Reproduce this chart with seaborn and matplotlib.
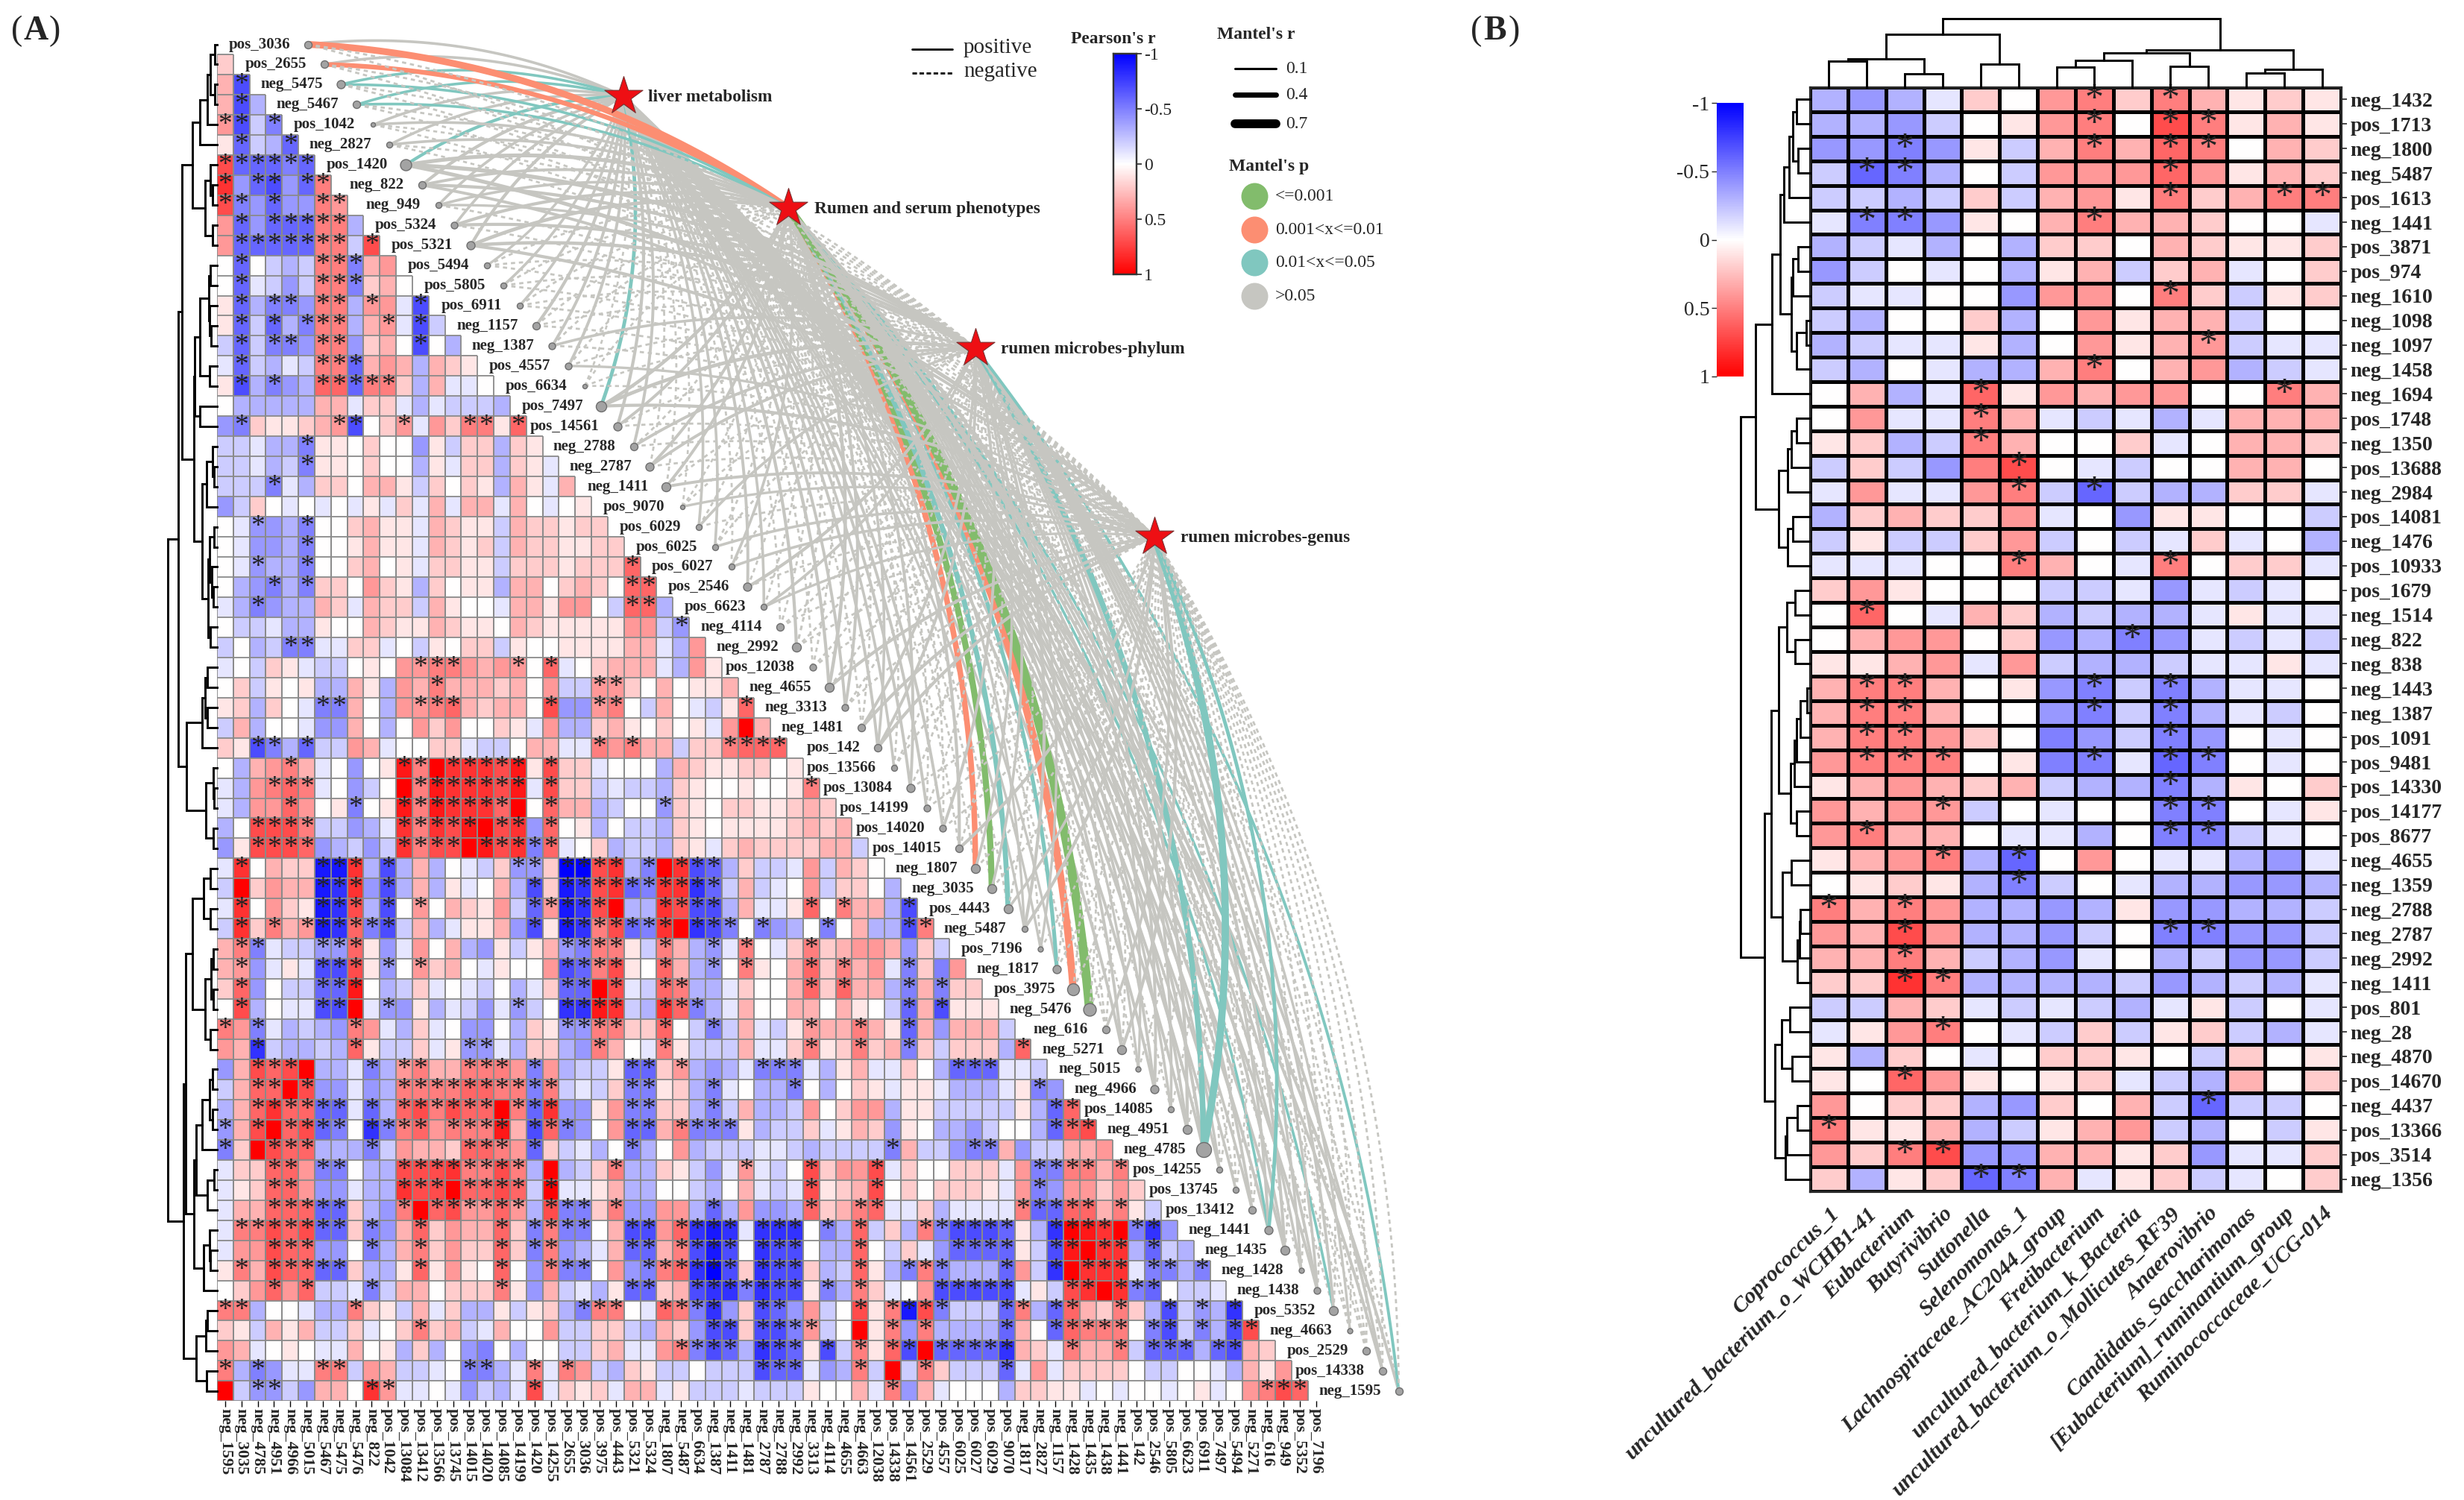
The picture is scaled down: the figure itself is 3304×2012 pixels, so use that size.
import matplotlib
matplotlib.use('Agg')
import numpy as np
import pandas as pd
import matplotlib.pyplot as plt
import seaborn as sns
from matplotlib.colors import LinearSegmentedColormap

# ── Panel A data: r x 10, * = significant ─────────────────
metabolites = ['pos_3036', 'pos_2655', 'neg_5475', 'neg_5467', 'pos_1042', 'neg_2827', 'pos_1420', 'neg_822',
               'neg_949', 'pos_5324', 'pos_5321', 'pos_5494', 'pos_5805', 'pos_6911', 'neg_1157', 'neg_1387',
               'pos_4557', 'pos_6634', 'pos_7497', 'pos_14561', 'neg_2788', 'neg_2787', 'neg_1411', 'pos_9070',
               'pos_6029', 'pos_6025', 'pos_6027', 'pos_2546', 'pos_6623', 'neg_4114', 'neg_2992', 'pos_12038',
               'neg_4655', 'neg_3313', 'neg_1481', 'pos_142', 'pos_13566', 'pos_13084', 'pos_14199', 'pos_14020',
               'pos_14015', 'neg_1807', 'neg_3035', 'pos_4443', 'neg_5487', 'pos_7196', 'neg_1817', 'pos_3975',
               'neg_5476', 'neg_616', 'neg_5271', 'neg_5015', 'neg_4966', 'pos_14085', 'neg_4951', 'neg_4785',
               'pos_14255', 'pos_13745', 'pos_13412', 'neg_1441', 'neg_1435', 'neg_1428', 'neg_1438', 'pos_5352',
               'neg_4663', 'pos_2529', 'pos_14338', 'neg_1595']

bottom_labels = ['neg_1595', 'neg_3035', 'neg_4785', 'neg_4951', 'neg_4966', 'neg_5015', 'neg_5467', 'neg_5475',
                 'neg_5476', 'neg_822', 'pos_1042', 'pos_13084', 'pos_13412', 'pos_13566', 'pos_13745', 'pos_14015',
                 'pos_14020', 'pos_14085', 'pos_14199', 'pos_1420', 'pos_14255', 'pos_2655', 'pos_3036', 'pos_3975',
                 'pos_4443', 'pos_5321', 'pos_5324', 'neg_1807', 'neg_5487', 'pos_6634', 'neg_1387', 'neg_1411',
                 'neg_1481', 'neg_2787', 'neg_2788', 'neg_2992', 'neg_3313', 'neg_4114', 'neg_4655', 'neg_4663',
                 'pos_12038', 'pos_14338', 'pos_14561', 'pos_2529', 'pos_4557', 'pos_6025', 'pos_6027', 'pos_6029',
                 'pos_9070', 'neg_1817', 'neg_2827', 'neg_1157', 'neg_1428', 'neg_1435', 'neg_1438', 'neg_1441',
                 'pos_142', 'pos_2546', 'pos_5805', 'pos_6623', 'pos_6911', 'pos_7497', 'pos_5494', 'neg_5271',
                 'neg_616', 'neg_949', 'pos_5352', 'pos_7196']

corr_rows = [
    "",
    "2",
    "3 -7*",
    "3 -7* -3",
    "4* -7* -2 -5*",
    "1 -6* -2 -3 -6*",
    "7* -6* -6* -6* -5* -6*",
    "8* -4 -6* -7* -4 -6* 5*",
    "7* -5* -4 -6* -4 -4 5* 4*",
    "4 -6* -4 -6* -6* -6* 5* 5* -3",
    "4 -6* -6* -6* -6* -6* 5* 5* -2 7*",
    "0 -6* 0 -2 -3 -2 5* 5* -5* 3 4",
    "0 -6* -1 -2 -4 -2 5* 5* -5* 2 3 0",
    "1 -6* -3 -5* -5* -4 5* 5* -3 4* 4 -1 -7*",
    "1 -6* -2 -6* -3 -5* 5* 5* -3 3 4* -1 -7* -2",
    "-2 -6* -2 -5* -5* -4 5* 5* -4 2 3 0 -7* 0 -3",
    "-1 -6* -2 -3 -1 -2 5* 5* -6* 3 4 3 -3 3 2 1",
    "1 -7* -3 -5* -4 -3 6* 6* -6* 5* 5* 2 -3 3 -1 -1 0",
    "0 -3 -3 -3 -3 -3 3 3 -1 2 2 -1 -3 -1 -2 -2 -2 -3",
    "-4 -5* 2 1 1 2 3 4* -7* 0 2 4* -1 4 2 5* 5* 1 6*",
    "-2 -2 -1 -3 -3 -5* 1 1 0 2 0 0 -4 1 -2 2 2 -3 2 1",
    "-2 -2 -1 -3 -2 -5* 1 1 0 2 0 0 -3 1 -1 2 2 -3 2 1 -1",
    "-2 -2 -2 -5* -1 -3 2 2 0 3 3 1 -2 2 0 2 1 -3 3 1 -1 3",
    "-4 -2 2 0 -1 0 -1 0 -1 1 -1 2 -1 3 -1 3 3 -1 3 0 -1 0 1",
    "0 -1 -4* -4 -3 -5* 0 0 2 3 1 1 -1 3 2 1 1 -2 3 2 2 1 2 2",
    "0 -1 -4 -4 -3 -5* 0 0 1 3 1 1 -1 3 2 1 2 -2 3 2 2 1 1 2 2",
    "0 -1 -4* -3 -3 -5* 0 0 2 3 0 1 -1 2 2 1 1 -2 2 2 2 1 2 2 2 6*",
    "0 -3 -4 -5* -3 -5* 2 2 0 4 2 1 -3 2 0 1 1 -3 3 3 0 2 3 2 0 6* 6*",
    "-1 -3 -5* -4 -3 -3 3 2 -1 3 2 2 -2 3 1 0 0 -1 3 3 1 4 4 0 -2 6* 6* -3",
    "0 -2 -2 -1 -3 -3 1 0 0 3 2 1 1 3 2 1 1 0 3 2 1 1 1 1 1 4 4 -2 -4*",
    "-2 0 -3 -2 -5* -5* -1 -1 2 2 -1 0 -2 1 0 2 2 -2 1 0 0 1 1 1 1 3 3 -1 -3 4",
    "-1 0 -2 2 1 -1 -2 -2 0 1 0 4 4* 5* 5* 4 3 4 4* 0 6* -1 0 2 3 3 3 -1 -3 4 1",
    "0 2 -2 1 0 1 -3 -3 3 1 -3 4 3 5* 3 3 3 2 3 0 4 -2 -2 4* 4* 2 0 3 0 1 1 3",
    "1 2 -3 2 0 -1 -5* -5* 3 0 -3 4 4* 5* 6* 3 2 3 3 0 7* -4 -4 4* 5* 0 -2 3 0 -1 -2 1 6*",
    "-2 3 -3 0 0 -1 -4 -4 3 0 -3 0 4 2 4 0 0 2 1 -1 4 -3 -3 2 3 1 0 2 0 1 -1 4 10 3",
    "2 1 -7* -5* -3 -6* -2 -2 4 3 -1 0 0 2 2 -1 -2 -2 0 3 3 -1 -1 5* 4 5* 3 3 -2 2 2 5* 6* 6* 6*",
    "0 -3 3 4 5* 3 -1 0 -4 0 1 9* 5* 10 8* 8* 8* 7* 9* 1 7* 2 2 -1 0 0 0 -3 3 2 1 1 2 2 0 1",
    "-1 -3 4 5* 6* 5* -1 0 -4 -2 0 10 5* 9* 8* 8* 8* 7* 9* -1 7* 2 2 -2 -1 -2 -2 -3 2 1 0 0 1 0 0 1 5*",
    "-1 -3 4 4 6* 4 0 1 -5* 0 1 9* 5* 9* 8* 8* 8* 6* 10 0 6* 3 3 -3 -2 0 0 -4* 2 1 0 2 2 1 1 2 3 2",
    "-3 0 7* 7* 7* 5* -2 -2 -4 -3 -1 8* 5* 8* 7* 9* 10 7* 8* -4 6* 0 1 -3 0 -2 -2 -3 2 1 0 1 1 1 1 2 3 2 3",
    "-4 1 7* 7* 7* 6* -4 -3 -2 -4 -2 8* 5* 7* 7* 10 9* 7* 8* -5* 6* -1 0 2 -3 -2 -2 -3 2 1 -1 2 3 2 2 2 2 3 3 -2",
    "-1 8* 0 3 2 2 -9* -9* 8* -3 -7* -3 3 -3 0 -1 -2 2 -4* -4* 2 -10* -10* 7* 8* -3 -5* 10 8* -7* -6* -3 2 -2 -2 -1 4 -2 3 2 0",
    "-2 10 2 4 3 3 -9* -8* 8* -4 -7* -3 3 -3 1 -1 0 3 -3 -7* 2 -9* -8* 7* 8* -6* -5* 8* 8* -8* -6* -2 3 -2 -1 0 4 -2 2 2 0 -3",
    "-1 8* 0 4 2 1 -9* -8* 7* -3 -7* 0 4* 0 3 2 1 4 -2 -6* 4* -9* -8* 7* 10 -3 -3 8* 7* -7* -7* -3 3 -1 -1 1 6* 0 5* 3 3 -3 -7*",
    "-2 8* 2 5* 3 4* -9* -8* 6* -5* -7* -2 3 -3 -1 1 1 3 -4 -7* 1 -9* -8* 5* 7* -6* -5* 8* 10 -8* -7* -5* 0 -5* -4 -3 0 -5* 0 3 -3 -3 -7* 5*",
    "3 5* -5* -1 -2 -2 -4* -4* 6* 1 -4 -1 4 0 3 -3 -4 1 -2 1 3 -4* -5* 5* 5* 1 -2 5* 3 -3 -4* -1 5* 0 -1 2 5* 2 3 4 4 3 -4 2 -2",
    "3 4* -4 -1 1 -1 -7* -7* 7* 1 -4* 0 4* 2 3 0 -1 1 0 0 4 -7* -6* 5* 7* 1 0 6* 3 -3 -4* 0 5* 1 0 3 6* 2 5* 3 4 -1 -5* 2 -5 4",
    "2 6* -4 0 -2 -2 -6* -6* 9* 0 -3 -2 2 -1 0 -1 -2 0 -3 -1 2 -6* -6* 10 7* -1 -2 6* 5* -3 -3 -1 2 0 0 3 6* 2 6* 3 3 -3 -5* 3 -5* 2 2",
    "0 7* -3 0 -1 -1 -7* -7* 10 -1 -4* -4 1 -3 -1 -2 -4 -1 -4* -2 0 -8* -8* 9* 8* -2 -3 8* 6* -5* -3 -1 3 0 0 3 3 0 3 1 0 -2 -6* 3 -7* 1 1 1",
    "5* 4 -5* -1 -3 -2 -3 -4 5* 4 -1 -3 2 -1 0 -4 -4 0 -3 2 1 -4* -4* 5* 5* 2 2 6* 0 -2 -5* -2 3 -1 -2 1 4* 3 3 5* 3 1 -6* 3 -4 3 3 3 -2",
    "4 3 -8* -2 -3 -3 -2 -3 6* 1 -2 -2 2 -1 1 -4* -4* -1 -3 2 2 -3 -4 5* 3 0 -1 5* 1 -2 -2 -2 3 -1 -1 2 5* 1 2 5* 2 3 -5* 2 -2 2 2 2 -3 6*",
    "-4 3 7* 6* 7* 10 -3 -3 -1 -5* -3 4* 5* 3 3 5* 5* 5* 4 -5* 4 -3 -2 -2 1 -6* -6* 2 4* -3 -4 -3 -1 -5* -5* -5* -1 -3 1 3 -1 -1 2 0 -3 -6* -6* -6* -1 -1 -2",
    "-2 3 6* 6* 10 7* -4 -4 -1 -4 -3 5* 5* 5* 5* 6* 6* 5* 5* -5* 5* -2 -1 -2 2 -5* -5* 1 2 -3 -5* -1 0 -3 -3 -5* 0 -3 0 2 1 -1 1 1 -1 -3 -3 -3 -1 1 -5* -4",
    "-3 3 6* 8* 6* 6* -6* -6* -1 -6* -3 6* 7* 5* 7* 6* 6* 10 5* -6* 8* -4 -4 1 4 -5* -5* 2 2 -3 -5* -2 3 -3 -3 -2 4 0 2 4 4 -3 1 1 -2 -2 -2 -2 -2 1 -3 -6* 6*",
    "-4* 3 7* 10 6* 7* -6* -5* 0 -8* -5* 5* 6* 4 5* 5* 5* 9* 3 -7* 6* -5* -4 0 4 -6* -6* 3 5* -5* -5* -5* 1 -3 -2 -2 2 -1 1 3 2 -4 1 0 -3 -3 -4 -2 0 0 -3 -6* 6* 7*",
    "-5* 2 10 7* 6* 6* -3 -3 -3 -5* -2 4 3 3 2 6* 6* 5* 4 -6* 2 -2 -1 -3 0 -5* -3 0 4 -3 -2 -2 -2 -1 -1 -2 -3 -2 -2 -2 -2 -5* 3 -2 -2 -4 -5* -5* 3 -4 -2 -2 3 3 4",
    "-1 2 2 6* 6* 4 -5* -5* 0 -3 -3 7* 7* 7* 8* 5* 5* 7* 5* -3 10 -3 -2 2 5* -3 -3 2 1 -2 -4 -1 4* -1 -2 0 7* 2 4 4 7* -1 2 0 0 2 2 2 -1 4 -5* -5* 5* 5* 3 5*",
    "-1 1 2 6* 6* 4 -4 -4 -1 -3 -3 8* 7* 7* 10 6* 6* 7* 6* -2 10* -1 -1 1 3 -3 -3 0 0 -2 -3 0 3 -1 -2 -1 7* 1 2 3 7* 0 2 0 2 2 2 1 -1 4 -5* -4 4 4 2 4 2",
    "-1 3 3 6* 6* 6* -6* -6* 2 -3 -4 5* 10 6* 7* 4* 4* 6* 4* -3 7* -5* -5* 2 5* -4 -4 4 4 -3 -6* -3 4 -4 -4 -3 6* 2 3 5* 6* -1 -1 2 -3 -1 -1 -1 -1 5* -6* -6* 6* 6* 3 5* 1 -2",
    "-1 5* 5* 7* 6* 7* -6* -6* 2 -5* -4 3 6* 2 4 3 3 6* 2 -5* 5* -5* -5* 0 3 -7* -7* 4 6* -8* -9* -8* -1 -8* -8* -8* 0 -5* -3 6* -2 2 -3 5* -5* -7* -7* -7* -6* 1 -3 -8* 10* 9* 8* 10 -5* -8* -4",
    "-1 4 4 7* 6* 6* -4 -4 0 -5* -3 3 5* 2 4 2 2 6* 2 -5* 5* -4 -3 -1 3 -6* -6* 3 5* -7* -9* -7* 0 -8* -7* -7* 0 -3 -3 6* 0 -2 2 -1 -4 -6* -6* -6* -6* 1 -2 -7* 9* 10 8* 8* -3 -6* -2 -3",
    "1 5* 3 7* 6* 6* -6* -6* 2 -3 -3 1 6* 1 4 1 0 6* 0 -4 5* -5* -5* 0 4 -4 -5* 5* 6* -8* -10* -7* 2 -8* -7* -7* 2 -3 -2 6* 1 -3 -5* 5* -5* -3 -3 -3 -6* 4 -2 -8* 10 8* 8* 8* -1 -5* -5* -3 -5*",
    "0 2 4 6* 4 6* -2 -2 -1 -5* -2 3 3 0 2 2 2 5* 1 -4 3 -2 -1 -3 1 -6* -6* 2 3 -7* -8* -8* -5* -8* -7* -7* 1 -5* -3 5* 2 -1 0 4 -7* -7* -7* -7* -7* -1 1 -2 7* 8* 10 8* -5* -6* 0 -2 -2 -1",
    "5* 5* -3 0 0 -1 -3 -3 5* 2 1 -2 3 -1 2 -3 -3 1 -2 1 2 -3 -5* 5* 5* 0 -1 6* 5* -5* -8* -4 2 -7* -6* -4 4 -2 0 7* 1 5* -9* 7* -5* -2 -2 -2 -6* 5* -3 -6* 6* 3 2 5* 2 -3 -7* -2 -4* -3 -8*",
    "2 1 -2 3 1 3 -2 -2 2 -1 0 2 5* 2 3 -2 -1 3 0 0 4 -2 -2 2 2 -2 -3 3 2 -4 -7* -7* 2 -7* -7* -5* 4* -2 0 10 1 5* -4 5* -3 -3 -3 -3 -6* 3 0 -6* 6* 5* 5* 5* 0 -5* -7* -2 -5* -3 -7* 7*",
    "4 3 -1 0 1 0 -1 -1 3 0 1 -3 2 -3 0 -4 -5 0 -3 0 0 -2 -2 2 3 -1 -1 4 5* -5* -7* -6* -3 -8* -7* -6* 1 -7* -2 5* 1 6* -7* 10 -6* -6* -6* -6* -8* 3 2 -1 5* 3 3 5* -2 -6* -6* -6* -3 -6* -7* 3 2",
    "5* -3 -5* -4 -1 -1 5* 5* -2 4 3 -2 -2 -1 0 -5* -5* -3 -1 5* -1 5* 4 -2 -3 2 1 -2 -2 0 -2 -2 -2 -7* -6* -6* -1 -4 -3 5* -2 10 -2 5* 2 -2 -2 -2 -6* -1 4 -1 2 2 2 2 0 -2 -2 0 0 -1 -3 3 1 4",
    "10 -2 -4* -4* -2 -4 3 3 0 8* 4* -1 -1 0 -1 -4 -2 -3 -1 7* -1 2 1 2 -1 3 3 -1 1 -2 -2 -2 -1 -2 -2 -2 1 0 0 3 -1 5* -4 3 -1 0 0 0 -3 2 2 1 1 -1 0 -1 0 0 -1 0 1 -1 0 4 5* 7* 6*",
]

# row dendrogram as (height, left, right), leaves are row numbers
row_tree_a = (130,
              (102,
               (93,
                (65,
                 (45, (25, (18, (6, 0, 1), (6, 2, 3)), 4), 5),
                 (32, (18, 6, (12, 7, 8)), (12, 9, 10))),
                (60,
                 (58,
                  (45, (22, (18, 11, 12), (20, 13, (16, 14, 15))), (20, 16, 17)),
                  (45, 18, 19)),
                 (40,
                  (27, (12, 20, (8, 21, 22)), 23),
                  (23, (20, (8, 24, 25), (14, 26, (10, 27, 28))), (18, 29, 30))))),
               (80,
                (40, (32, (25, 31, 32), (25, 33, 34)), 35),
                (30, (10, 36, (8, 37, 38)), (10, 39, 40)))),
              (88,
               (83,
                (65,
                 (35, (18, 41, 42), (18, 43, 44)),
                 (32, (15, (10, 45, 46), (10, 47, 48)), (18, 49, 50))),
                (60,
                 (55,
                  (40, (20, (12, 51, 52), (12, 53, 54)), 55),
                  (25, (8, 56, 57), 58)),
                 (35, (20, 59, (18, 60, 61)), 62))),
               (55,
                (30, (25, 63, 64), 65),
                (28, 66, 67))))

# ── Mantel links: r per metabolite, negative = dashed ─────
hubs = ['liver metabolism', 'Rumen and serum phenotypes', 'rumen microbes-phylum', 'rumen microbes-genus']

liver_r = [10, 10, 14, 14, 10, 10, 18, 14, 10, 10, 14, 8, 10, 10, 14, 12, 12, -5, 22, 14,
           12, -6, -6, -5, 10, 10, -6, 12, 10, -6, 14, -6, 14, 12, -6, 12, 10, 12, 12, 12,
           -6, -6, -6, -6, 8, 8, 8, -6, -6, -6, 12, -5, 12, -5, 12, 12, 10, 10, 10, 12,
           12, -5, 12, -6, -5, -6, 12, 12]
rumen_r = [50, 32, 14, 14, 10, 10, 20, 12, 10, 14, 18, -6, -6, -6, -6, -6, -6, -5, 16, 12,
           -6, 12, 12, -5, -6, -6, 10, -6, -6, -6, -8, -6, 16, 12, -6, 10, -6, 12, -6, -6,
           14, 40, 45, 35, 8, -5, 25, 55, 70, -6, 12, 8, 12, 10, 12, 14, 10, -6, 12, 14,
           12, 10, 12, 14, -5, -6, 12, -6]
phylum_r = [-6, -6, -6, -6, -5, -6, 22, 14, 8, 14, 16, -6, -6, -6, -6, 10, -6, -5, 18, -6,
            12, 12, -6, -5, 10, -6, -6, 14, 10, -6, -6, -6, -6, -6, 12, 12, -6, -6, -6, 12,
            -6, 10, 10, -6, 14, 8, -6, -6, -6, -6, -6, 8, 12, 10, 14, 40, -6, -6, -6, 12,
            14, 10, 10, 12, 8, -6, -6, 16]
genus_r = [-6, -6, -6, -6, -5, -5, 20, 12, -6, -6, 14, -6, -6, -6, -6, -6, 8, -5, 14, -6,
           -6, -6, 12, 8, -6, 10, 10, -6, 8, -6, -6, -6, 14, -6, 14, 14, -6, -6, -6, -6,
           14, -6, -6, 10, 14, -5, -6, -6, -6, 10, 14, -5, -6, -5, -6, 55, -6, -6, -6, 22,
           -6, -5, -6, -6, -5, -6, -6, -6]

teal_links = {0: ['neg_5475', 'neg_5467', 'pos_1420', 'pos_7497'],
              1: ['neg_5475', 'neg_5467', 'pos_4443', 'neg_1817', 'neg_1441', 'pos_5352'],
              2: ['neg_4785', 'neg_1595'],
              3: ['neg_4785', 'neg_1441']}
orange_links = {1: ['pos_3036', 'pos_2655', 'neg_1807', 'pos_3975']}
green_links = {1: ['neg_3035', 'neg_5476']}

# node radius in px
node_size = [5, 5, 5.5, 5, 3, 4, 7.5, 5, 4, 4.5, 5.5, 4, 4, 4, 5, 4.5, 4.5, 3, 7, 5.5,
             5, 5.5, 6, 3, 4, 4, 4, 5.5, 4, 5, 6, 4.5, 6, 4.5, 5, 5, 4, 5.5, 4.5, 4.5,
             5, 6, 6, 6, 4, 3.5, 5.5, 8, 8.5, 5, 6, 3.5, 5.5, 4, 6, 10, 4, 4, 5, 5.5,
             6, 3.5, 4.5, 6, 3.5, 5, 5, 5]

# ── Panel B data ──────────────────────────────────────────
genus_names = ['Coprococcus_1', 'uncultured_bacterium_o_WCHB1-41', 'Eubacterium', 'Butyrivibrio', 'Suttonella',
               'Selenomonas_1', 'Lachnospiraceae_AC2044_group', 'Fretibacterium', 'uncultured_bacterium_k_Bacteria',
               'uncultured_bacterium_o_Mollicutes_RF39', 'Anaerovibrio', 'Candidatus_Saccharimonas',
               '[Eubacterium]_ruminantium_group', 'Ruminococcaceae_UCG-014']

metab_b = ['neg_1432', 'pos_1713', 'neg_1800', 'neg_5487', 'pos_1613', 'neg_1441', 'pos_3871', 'pos_974', 'neg_1610',
           'neg_1098', 'neg_1097', 'neg_1458', 'neg_1694', 'pos_1748', 'neg_1350', 'pos_13688', 'neg_2984',
           'pos_14081', 'neg_1476', 'pos_10933', 'pos_1679', 'neg_1514', 'neg_822', 'neg_838', 'neg_1443', 'neg_1387',
           'pos_1091', 'pos_9481', 'pos_14330', 'pos_14177', 'pos_8677', 'neg_4655', 'neg_1359', 'neg_2788',
           'neg_2787', 'neg_2992', 'neg_1411', 'pos_801', 'neg_28', 'neg_4870', 'pos_14670', 'neg_4437', 'pos_13366',
           'pos_3514', 'neg_1356']

corr_b = [
    "-3 -4 -3 -1 2 0 4 5* 2 5* 3 1 2 1",
    "-3 -3 -4 -2 0 1 4 5* 0 7* 5* 1 3 1",
    "-4 -4 -5* -4 1 -2 3 5* 3 6* 5* 0 3 2",
    "-2 -6* -5* -3 0 -2 4 4 4 6* 4 1 3 2",
    "-2 -2 -3 -2 2 -2 3 4 1 5* 2 3 5* 5*",
    "-1 -5* -5* -4 1 0 3 5* 3 3 2 0 0 -1",
    "-3 -2 -1 -3 0 -3 2 2 0 3 2 1 1 2",
    "-4 -2 0 -1 0 -3 1 3 -2 2 3 -1 0 2",
    "-2 -1 -1 0 0 -4 4 4 0 5* 2 -2 1 2",
    "-2 -3 0 0 2 -3 0 4 1 3 3 -2 0 0",
    "-3 -2 -1 -1 1 -3 0 4 1 3 4* -2 -1 -1",
    "-2 -3 0 -1 -3 -3 3 5* 0 3 4 -3 -2 -1",
    "0 3 -3 -1 6* 1 4 3 4 4 0 0 5* 3",
    "0 4 -1 -1 5* 3 -1 -2 -1 -3 -1 3 3 3",
    "1 2 -3 -2 5* 3 0 0 2 -1 0 3 3 2",
    "-2 2 -2 -4 5 7* 0 -1 -2 0 0 3 3 0",
    "-1 4 -1 -1 4 5* -2 -6* -2 -3 -3 2 2 -1",
    "-3 2 3 2 2 4 -1 0 -4 1 1 0 0 -2",
    "-2 1 -2 -2 2 4 -2 0 -2 -1 2 -1 0 -3",
    "-1 -1 -1 0 0 5* 3 0 -1 5* 0 2 2 -1",
    "2 4 1 0 0 0 -2 -2 -1 -4 -1 -2 -1 0",
    "0 6* 0 -1 3 2 -3 -2 -3 -3 -1 1 -1 -1",
    "0 3 4 4 0 2 -4 -3 -5* -4 -1 -2 -1 -2",
    "1 1 3 4 -1 4 -2 -3 -3 -2 -1 -1 1 -1",
    "3 5* 5* 3 0 1 -4 -5* -2 -5* -3 -1 -1 0",
    "3 5* 5* 3 0 0 -4 -5* -2 -5* -3 -1 -2 0",
    "3 5* 5* 4 2 0 -5 -4 -2 -5* -4 0 -1 0",
    "4 5* 5* 5* 0 1 -5 -5* -1 -6* -5* 0 -1 0",
    "1 3 4 3 2 3 -2 -3 -3 -5* -3 1 0 2",
    "4 3 4 4* -2 0 -1 0 0 -5* -5* 0 -1 1",
    "4 5* 3 3 0 -1 -1 -3 0 -5* -5* -2 -1 0",
    "1 3 4 5* -3 -6* 0 4 0 -1 -1 -3 -4 -1",
    "0 1 2 1 -3 -5* -2 0 -1 -3 -3 -4 -4 -3",
    "5* 3 5* 4 -3 -3 -4 -3 1 -4 -4 -3 -3 -2",
    "4 3 7* 4 -3 -3 -4 -2 0 -5* -5* -4 -4 -2",
    "3 3 5* 3 -2 -3 -4 -1 0 -3 -2 -4 -4 -2",
    "2 2 8* 5* -3 -3 -3 -3 -2 -4 -3 -2 -3 -1",
    "-2 -2 3 2 -1 -2 -1 -2 -3 -1 1 -2 0 -1",
    "-1 1 4 5* 0 -1 -2 2 -2 1 2 -2 -3 -1",
    "1 -3 2 0 -1 0 2 2 1 0 -2 2 0 1",
    "1 0 6* 4 1 0 1 2 -1 -2 -3 3 0 2",
    "4 0 2 2 -3 -4 2 0 3 -2 -6* -2 -2 0",
    "5* 1 1 3 -3 -2 1 3 4 -2 -3 0 -2 1",
    "4 2 5* 7* -4 -4 3 3 1 2 -4 -1 -1 2",
    "2 -3 1 2 -6* -5* 3 -1 1 2 -2 -1 0 2",
]

row_tree_b = (132,
              (104,
               (72,
                (57,
                 (50, (40, (32, (26, 0, 1), (22, 2, 3)), 4), 5),
                 (35, (32, (22, 6, 7), 8), (25, (7, 9, 10), 11))),
                12),
               (60,
                (42, (35, (25, 13, 14), 15), 16),
                (42, (32, 17, 18), 19))),
              (87,
               (74,
                (60,
                 (44, (28, 20, 21), (28, 22, 23)),
                 (37, (30, (25, (18, (5, 24, 25), 26), 27), 28), (25, 29, 30))),
                (52, (35, 31, 32), (24, (20, (18, 33, 34), 35), 36))),
               (67,
                (54, (38, 37, 38), (34, 39, 40)),
                (47, (44, (24, 41, 42), 43), 44))))

col_tree_b = (180,
              (140, (75, (68, 0, 1), (35, 2, 3)), (60, 4, 5)),
              (98,
               (90, (70, (52, 6, 7), 8), (55, 9, 10)),
               (47, (37, 11, 12), 13)))

cbar_ticks = [-1, -0.5, 0, 0.5, 1]
cbar_ticklabels = ['-1', '-0.5', '0', '0.5', '1']

# ── helpers ───────────────────────────────────────────────
W, H = 3305, 2012
GREY, TEAL, ORANGE, GREEN = '#C6C6C1', '#80C7BF', '#FC8E72', '#82BC6C'
cmap = LinearSegmentedColormap.from_list('bwr2', ['#0000FF', '#FFFFFF', '#FF0000'])


def parse_rows(rows, n_cols):
    vals = np.full((len(rows), n_cols), np.nan)
    stars = np.full((len(rows), n_cols), '', dtype=object)
    for i, row in enumerate(rows):
        for j, tok in enumerate(row.split()):
            vals[i, j] = int(tok.strip('*')) / 10
            stars[i, j] = '*' if '*' in tok else ''
    return vals, stars


def px_axes(fig, left, top, right, bottom):
    return fig.add_axes([left / W, 1 - bottom / H, (right - left) / W, (bottom - top) / H])


def draw_tree(ax, node, to_xy):
    # returns (leaf position, height) of the node
    if not isinstance(node, tuple):
        return node, 0
    h, a, b = node
    pa, ha = draw_tree(ax, a, to_xy)
    pb, hb = draw_tree(ax, b, to_xy)
    pts = [to_xy(pa, ha), to_xy(pa, h), to_xy(pb, h), to_xy(pb, hb)]
    ax.plot([p[0] for p in pts], [p[1] for p in pts], color='black', lw=2.1,
            solid_joinstyle='miter', solid_capstyle='projecting', zorder=3)
    return (pa + pb) / 2, h


def bezier(p0, p1, curv=0.14, n=60):
    p0, p1 = np.array(p0, float), np.array(p1, float)
    d = p1 - p0
    perp = np.array([-d[1], d[0]])
    if perp[0] - perp[1] < 0:
        perp = -perp
    ctrl = (p0 + p1) / 2 + curv * perp
    t = np.linspace(0, 1, n)[:, None]
    return (1 - t) ** 2 * p0 + 2 * t * (1 - t) * ctrl + t ** 2 * p1


def r_to_lw(r):
    return (1.5 + abs(r) / 100 * 15) * 0.72


def label_with_bold_letter(ax, x, letter, y=42, size=33):
    # parentheses are regular, only the letter is bold
    ax.text(x, y, '(', fontsize=size, va='center')
    ax.text(x + 17, y, letter, fontsize=size, fontweight='bold', va='center')
    ax.text(x + 51, y, ')', fontsize=size, va='center')


sns.set_style('white')
plt.rcParams['font.family'] = ['Liberation Serif', 'DejaVu Serif']

fig = plt.figure(figsize=(W / 100, H / 100), dpi=100)

# ── Panel A heatmap ───────────────────────────────────────
cw, rh = 21.83, 26.96
left_a, top_a = 291, 73 - rh
n_a = len(metabolites)
for i, row in enumerate(corr_rows):
    if len(row.split()) != i:
        raise ValueError(f'row {i} has {len(row.split())} cells')

vals_a, stars_a = parse_rows(corr_rows, n_a)
df_a = pd.DataFrame(vals_a, index=metabolites, columns=bottom_labels)
ax_a = px_axes(fig, left_a, top_a, left_a + cw * n_a, top_a + rh * n_a)
cax_a = px_axes(fig, 1493, 72, 1524, 368)
sns.heatmap(df_a, ax=ax_a, cmap=cmap, vmin=-1, vmax=1, mask=np.isnan(vals_a), annot=stars_a, fmt='',
            annot_kws={'fontsize': 27, 'color': '#222222'}, linewidths=0,
            xticklabels=True, yticklabels=False, cbar_ax=cax_a, cbar_kws={'ticks': cbar_ticks})

# grid only around the cells of the lower triangle
rows_idx = np.arange(1, n_a)
ax_a.hlines(rows_idx, 0, rows_idx, color='#8A8A8A', lw=1.3, zorder=2)
ax_a.hlines(n_a, 0, n_a - 1, color='#8A8A8A', lw=1.3, zorder=2)
ax_a.vlines(rows_idx - 1, rows_idx, n_a, color='#8A8A8A', lw=1.3, zorder=2)
ax_a.vlines(rows_idx, rows_idx, n_a, color='#8A8A8A', lw=1.3, zorder=2)

ax_a.tick_params(axis='x', bottom=True, length=6, width=1, color='black', pad=1)
for t in ax_a.get_xticklabels():
    t.set_rotation(-90)
    t.set_fontsize(16)
    t.set_fontweight('bold')
    t.set_va('top')
    t.set_ha('center')

cax_a.invert_yaxis()
cax_a.set_yticks(cbar_ticks, cbar_ticklabels, fontsize=17)
cax_a.tick_params(axis='y', right=True, left=False, length=5, width=1.2, pad=2)
cax_a.yaxis.tick_right()
for s in cax_a.spines.values():
    s.set_visible(True)
    s.set_linewidth(1.6)
    s.set_color('#333333')

# ── Panel B heatmap ───────────────────────────────────────
left_b, right_b, top_b, bottom_b = 2427, 3139, 117, 1598
vals_b, stars_b = parse_rows(corr_b, len(genus_names))
df_b = pd.DataFrame(vals_b, index=metab_b, columns=genus_names)
ax_b = px_axes(fig, left_b, top_b, right_b, bottom_b)
cax_b = px_axes(fig, 2302, 138, 2338, 505)
sns.heatmap(df_b, ax=ax_b, cmap=cmap, vmin=-1, vmax=1, annot=stars_b, fmt='',
            annot_kws={'fontsize': 36, 'color': '#222222'}, linewidths=2.3, linecolor='black',
            xticklabels=True, yticklabels=True, cbar_ax=cax_b, cbar_kws={'ticks': cbar_ticks})
ax_b.yaxis.tick_right()
ax_b.tick_params(axis='y', right=True, left=False, length=6, width=1.2, pad=3, labelrotation=0)
ax_b.tick_params(axis='x', bottom=False, pad=8)
for t in ax_b.get_yticklabels():
    t.set_fontsize(20)
    t.set_fontweight('bold')
for t in ax_b.get_xticklabels():
    t.set_rotation(45)
    t.set_rotation_mode('anchor')
    t.set_ha('right')
    t.set_fontsize(21.5)
    t.set_fontweight('bold')
    t.set_fontstyle('italic')
for s in ax_b.spines.values():
    s.set_visible(True)
    s.set_linewidth(2.3)

cax_b.invert_yaxis()
cax_b.yaxis.tick_left()
cax_b.set_yticks(cbar_ticks, cbar_ticklabels, fontsize=20)
cax_b.tick_params(axis='y', left=True, right=False, length=5, width=1, pad=2)

# ── overlay in figure pixels: links, nodes, trees, legends ─
over = fig.add_axes([0, 0, 1, 1], zorder=5)
over.set_xlim(0, W)
over.set_ylim(H, 0)
over.axis('off')
over.patch.set_alpha(0)

node_xy = {name: (413 + cw * i, 59.5 + rh * i) for i, name in enumerate(metabolites)}
hub_xy = [(836, 129), (1057, 279), (1308, 467), (1548, 720)]
hub_r = [liver_r, rumen_r, phylum_r, genus_r]
hub_text_x = [869, 1092, 1342, 1583]

# hub by hub, so later links cross over earlier coloured ones
for h, r_list in enumerate(hub_r):
    special = {}
    for links, colour in [(teal_links, TEAL), (orange_links, ORANGE), (green_links, GREEN)]:
        for name in links.get(h, []):
            special[name] = colour
    for name, r in zip(metabolites, r_list):
        xy = bezier(node_xy[name], hub_xy[h])
        if name in special:
            over.plot(xy[:, 0], xy[:, 1], color=special[name], lw=r_to_lw(r), solid_capstyle='butt', zorder=2)
        elif r > 0:
            over.plot(xy[:, 0], xy[:, 1], color=GREY, lw=r_to_lw(r) + 0.45, solid_capstyle='butt', zorder=2)
        else:
            over.plot(xy[:, 0], xy[:, 1], color=GREY, lw=r_to_lw(r) + 0.3, ls=(0, (2.0, 1.8)),
                      dash_capstyle='butt', zorder=2)

for i, name in enumerate(metabolites):
    x, y = node_xy[name]
    over.scatter(x, y, s=(2 * node_size[i] * 0.72) ** 2, color='#A3A3A3', edgecolor='#6E6E6E', linewidth=1,
                 zorder=4)
    over.text(x - 24, y, name, ha='right', va='center', fontsize=15, fontweight='bold', zorder=4)

for (x, y), label, tx in zip(hub_xy, hubs, hub_text_x):
    over.scatter(x, y, marker='*', s=1500, color='#EE0F14', edgecolor='#7A3030', linewidth=0.8, zorder=6)
    over.text(tx, y + 1, label, ha='left', va='center', fontsize=16.8, fontweight='bold', zorder=6)

# dendrograms
draw_tree(over, row_tree_a, lambda p, h: (left_a - h / 1.96, top_a + rh * (p + 0.5)))
cw_b = (right_b - left_b) / len(genus_names)
rh_b = (bottom_b - top_b) / len(metab_b)
draw_tree(over, row_tree_b, lambda p, h: (left_b - h / 1.419, top_b + rh_b * (p + 0.5)))
draw_tree(over, col_tree_b, lambda p, h: (left_b + cw_b * (p + 0.5), top_b - h / 1.96))

# line style legend
over.plot([1223, 1277], [66, 66], color='black', lw=2)
over.plot([1223, 1277], [98, 98], color='black', lw=2, ls=(0, (2.2, 1.2)))
over.text(1292, 64, 'positive', fontsize=21, va='center')
over.text(1292, 96, 'negative', fontsize=21, va='center')
over.text(1493, 52, "Pearson's r", fontsize=17, fontweight='bold', ha='center', va='center')

# Mantel's r legend
over.text(1684, 46, "Mantel's r", fontsize=17, fontweight='bold', ha='center', va='center')
for lab, y, lw in zip(['0.1', '0.4', '0.7'], [92, 127, 166], [2.2, 5, 8.5]):
    over.plot([1656, 1711], [y, y], color='black', lw=lw, solid_capstyle='round')
    over.text(1724, y, lab, fontsize=17, va='center')

# Mantel's p legend
over.text(1702, 223, "Mantel's p", fontsize=17, fontweight='bold', ha='center', va='center')
p_labels = ['<=0.001', '0.001<x<=0.01', '0.01<x<=0.05', '>0.05']
for lab, y, colour in zip(p_labels, [263, 308, 352, 397], [GREEN, ORANGE, TEAL, GREY]):
    over.scatter(1682, y, s=(2 * 18 * 0.72) ** 2, color=colour, linewidth=0)
    over.text(1710, y, lab, fontsize=17, va='center')

label_with_bold_letter(over, 15, 'A')
label_with_bold_letter(over, 1972, 'B')

plt.savefig('out.png', dpi=100)
